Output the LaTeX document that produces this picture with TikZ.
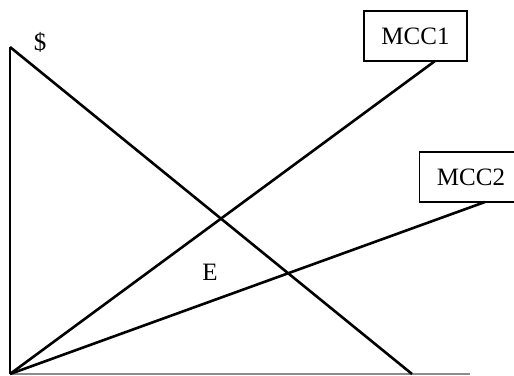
\documentclass[tikz,border=0pt]{standalone}
\usepackage{fontspec}
\setmainfont{Liberation Serif}
\usetikzlibrary{positioning}

\begin{document}
\begin{tikzpicture}[
    x=1pt, y=1pt,
    curve/.style={line width=2.6pt, black},
    axis/.style={line width=2.2pt, black},
    baseaxis/.style={line width=1.8pt, black!45},
    label/.style={font=\fontsize{25}{30}\selectfont, inner sep=0pt},
    curvebox/.style={draw, line width=1.8pt, minimum width=103pt, minimum height=50pt, inner sep=0pt, font=\fontsize{25}{30}\selectfont}
]
\useasboundingbox (0,0) rectangle (514,375);
\clip (0,0) rectangle (514,375);

% axes
\coordinate (origin) at (10,1);
\coordinate (top) at (10,328);
\coordinate (xend) at (470,1);
\draw[baseaxis] (origin) -- (xend);
\draw[axis] (origin) -- (top);

% demand
\coordinate (dend) at (412,1);
\draw[curve] (top) -- (dend);

% marginal cost curves
\node[curvebox] (mcc1) at (415.5,339) {MCC1};
\node[curvebox] (mcc2) at (471,198) {MCC2};
\coordinate (m1end) at (435,314);
\coordinate (m2end) at (485,173);
\draw[curve] (origin) -- (m1end);
\draw[curve] (origin) -- (m2end);

% labels
\node[label] (dollar) at (40,333) {\$};
\node[label] (eq) at (210,103) {E};
\end{tikzpicture}
\end{document}
